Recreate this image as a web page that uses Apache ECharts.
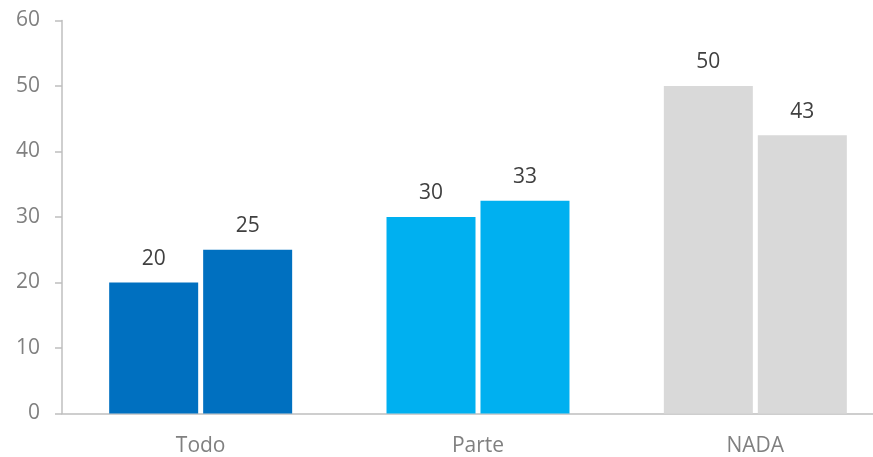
<!DOCTYPE html>
<html>
<head>
<meta charset="utf-8">
<script src="https://cdn.jsdelivr.net/npm/echarts@6/dist/echarts.min.js"></script>
<style>
html,body{margin:0;padding:0;background:#fff;overflow:hidden;}
#chart{width:873px;height:457px;}
</style>
</head>
<body>
<div id="chart"></div>
<script>
const categories = ["Todo", "Parte", "NADA"];
const seriesA = [20, 30, 50];
const seriesB = [25, 32.5, 42.5];
const categoryColors = ["#0070C0", "#00B0F0", "#D9D9D9"];
const yTicks = [0, 10, 20, 30, 40, 50, 60];

const font = "'Open Sans', 'Liberation Sans', sans-serif";

function makeData(vals) {
  return vals.map((v, i) => ({ value: v, itemStyle: { color: categoryColors[i] } }));
}

const chart = echarts.init(document.getElementById('chart'), null, { renderer: 'canvas' });
chart.setOption({
  animation: false,
  backgroundColor: '#ffffff',
  grid: { left: 62, right: -21, top: 20.5, bottom: 43.5, containLabel: false, outerBoundsMode: 'none' },
  xAxis: {
    type: 'category',
    data: categories,
    axisLine: { lineStyle: { color: '#BFBFBF', width: 1.5 } },
    axisTick: { show: false },
    axisLabel: { color: '#808080', fontSize: 21, fontFamily: font, margin: 22 }
  },
  yAxis: {
    type: 'value',
    min: yTicks[0],
    max: yTicks[yTicks.length - 1],
    interval: 10,
    axisLine: { show: true, lineStyle: { color: '#BFBFBF', width: 1.5 } },
    axisTick: { show: true, length: 7, lineStyle: { color: '#BFBFBF', width: 1.5 } },
    splitLine: { show: false },
    axisLabel: { color: '#808080', fontSize: 21, fontFamily: font, margin: 22 }
  },
  series: [
    {
      type: 'bar',
      data: makeData(seriesA),
      barWidth: 89,
      barGap: '5.6%',
      label: {
        show: true, position: 'top', distance: 13,
        color: '#404040', fontSize: 21, fontFamily: font,
        formatter: p => Math.round(p.value)
      }
    },
    {
      type: 'bar',
      data: makeData(seriesB),
      barWidth: 89,
      barGap: '5.6%',
      label: {
        show: true, position: 'top', distance: 13,
        color: '#404040', fontSize: 21, fontFamily: font,
        formatter: p => Math.round(p.value)
      }
    }
  ]
});
</script>
</body>
</html>
